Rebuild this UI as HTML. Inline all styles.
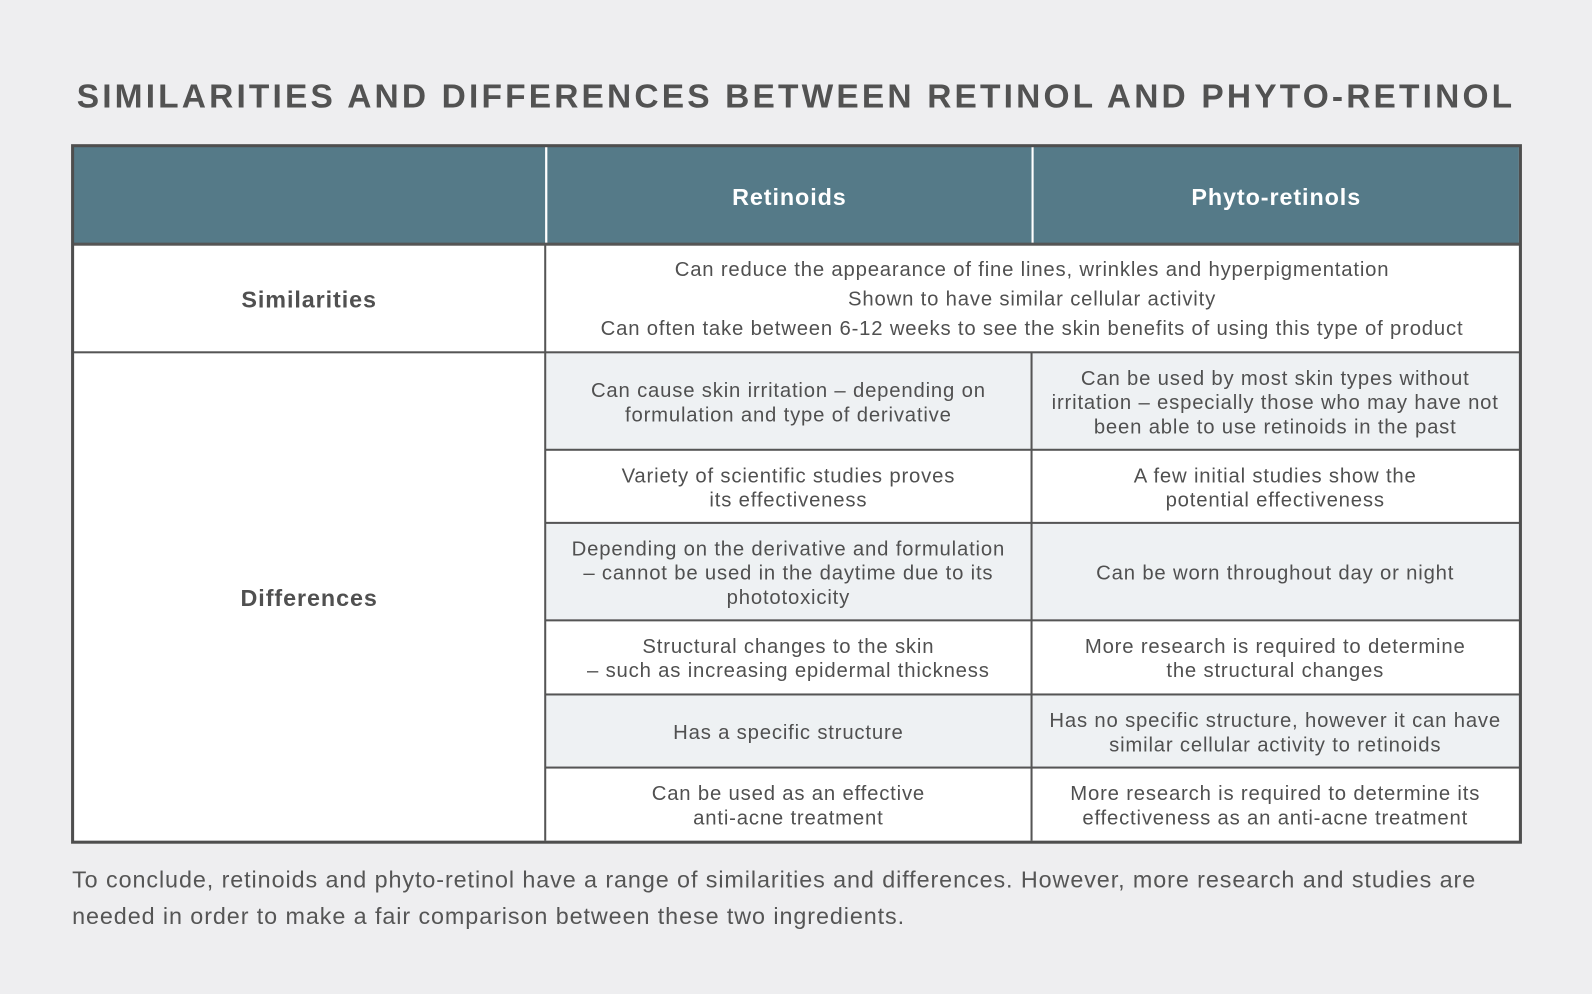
<!DOCTYPE html>
<html><head><meta charset="utf-8"><style>
body{margin:0;width:1592px;height:994px;background:#eeeef0;font-family:"Liberation Sans",sans-serif;color:#4a4a4a;overflow:hidden}
#w{position:absolute;left:0;top:0;width:1568px;height:979px;transform:scale(1.0153);transform-origin:0 0}
.t{position:absolute;left:0;width:1568px;top:76px;text-align:center;font-size:33px;font-weight:bold;letter-spacing:3.1px;color:#525252;white-space:nowrap}
.c{position:absolute;display:flex;align-items:center;justify-content:center;text-align:center;font-size:20px;line-height:24px;letter-spacing:0.8px;color:#505050;box-sizing:border-box;white-space:nowrap;padding-top:3px}
.h{background:#557a88;color:#fff;font-size:23px;font-weight:bold;letter-spacing:0.9px}
.s{background:#eef1f3}
.w{background:#fff}
.hl{position:absolute;background:#555;height:2px}
.vl{position:absolute;background:#555;width:2px}
.foot{position:absolute;left:71px;top:848px;font-size:23px;line-height:36px;color:#555;letter-spacing:0.9px;white-space:nowrap}
</style></head><body><div id="w">
<div class="t">SIMILARITIES AND DIFFERENCES BETWEEN RETINOL AND PHYTO-RETINOL</div>
<div class="c h" style="left:72px;top:144px;width:465px;height:96px"></div>
<div class="c h" style="left:539px;top:144px;width:477px;height:96px">Retinoids</div>
<div class="c h" style="left:1018px;top:144px;width:478px;height:96px">Phyto-retinols</div>
<div style="position:absolute;left:537px;top:144px;width:2px;height:96px;background:#fff"></div>
<div style="position:absolute;left:1016px;top:144px;width:2px;height:96px;background:#fff"></div>
<div class="c w" style="left:72px;top:240px;width:465px;height:107px;font-size:23px;font-weight:bold;letter-spacing:0.9px">Similarities</div>
<div class="c w" style="left:72px;top:347px;width:465px;height:481px;font-size:23px;font-weight:bold;letter-spacing:0.9px">Differences</div>
<div class="c w" style="left:537px;top:240px;width:959px;height:107px;line-height:29px">Can reduce the appearance of fine lines, wrinkles and hyperpigmentation<br>Shown to have similar cellular activity<br>Can often take between 6-12 weeks to see the skin benefits of using this type of product</div>
<div class="c s" style="left:537px;top:347px;width:479px;height:96px">Can cause skin irritation – depending on<br>formulation and type of derivative</div>
<div class="c s" style="left:1016px;top:347px;width:480px;height:96px">Can be used by most skin types without<br>irritation – especially those who may have not<br>been able to use retinoids in the past</div>
<div class="c w" style="left:537px;top:443px;width:479px;height:72px">Variety of scientific studies proves<br>its effectiveness</div>
<div class="c w" style="left:1016px;top:443px;width:480px;height:72px">A few initial studies show the<br>potential effectiveness</div>
<div class="c s" style="left:537px;top:515px;width:479px;height:96px">Depending on the derivative and formulation<br>– cannot be used in the daytime due to its<br>phototoxicity</div>
<div class="c s" style="left:1016px;top:515px;width:480px;height:96px">Can be worn throughout day or night</div>
<div class="c w" style="left:537px;top:611px;width:479px;height:73px">Structural changes to the skin<br>– such as increasing epidermal thickness</div>
<div class="c w" style="left:1016px;top:611px;width:480px;height:73px">More research is required to determine<br>the structural changes</div>
<div class="c s" style="left:537px;top:684px;width:479px;height:72px">Has a specific structure</div>
<div class="c s" style="left:1016px;top:684px;width:480px;height:72px">Has no specific structure, however it can have<br>similar cellular activity to retinoids</div>
<div class="c w" style="left:537px;top:756px;width:479px;height:72px">Can be used as an effective<br>anti-acne treatment</div>
<div class="c w" style="left:1016px;top:756px;width:480px;height:72px">More research is required to determine its<br>effectiveness as an anti-acne treatment</div>
<div class="hl" style="left:71px;top:239px;width:1426px;height:3px"></div>
<div class="hl" style="left:71px;top:346px;width:1426px"></div>
<div class="hl" style="left:537px;top:442px;width:960px"></div>
<div class="hl" style="left:537px;top:514px;width:960px"></div>
<div class="hl" style="left:537px;top:610px;width:960px"></div>
<div class="hl" style="left:537px;top:683px;width:960px"></div>
<div class="hl" style="left:537px;top:755px;width:960px"></div>
<div class="vl" style="left:536px;top:240px;height:588px"></div>
<div class="vl" style="left:1015px;top:347px;height:481px"></div>
<div style="position:absolute;left:70px;top:142px;width:1423px;height:683px;border:3px solid #4e4e4e"></div>
<div class="foot">To conclude, retinoids and phyto-retinol have a range of similarities and differences. However, more research and studies are<br>needed in order to make a fair comparison between these two ingredients.</div>
</div></body></html>
